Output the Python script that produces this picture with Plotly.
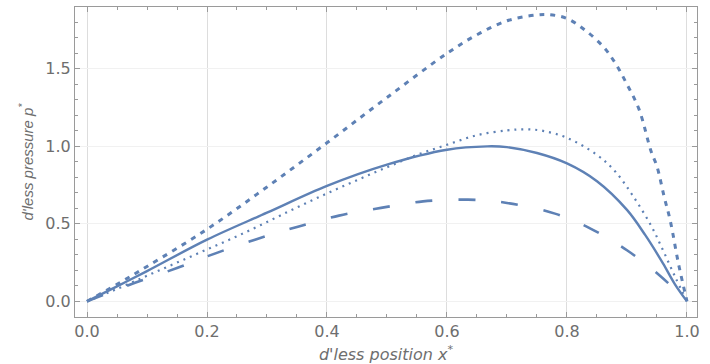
import plotly.graph_objects as go

# Solid curve
solid_x = [0, 0.05, 0.1, 0.2, 0.3, 0.4, 0.5, 0.6, 0.667, 0.7, 0.75, 0.8, 0.85, 0.9, 0.93, 0.96, 0.98, 1.0]
solid_y = [0, 0.097, 0.195, 0.398, 0.572, 0.745, 0.882, 0.978, 1.0, 0.995, 0.957, 0.89, 0.775, 0.59, 0.43, 0.245, 0.11, 0.0]

# Fine dotted curve
dot_x = [0, 0.05, 0.1, 0.15, 0.2, 0.25, 0.3, 0.35, 0.4, 0.45, 0.5, 0.55, 0.6, 0.65, 0.7, 0.73, 0.76, 0.8, 0.85, 0.88, 0.91, 0.94, 0.96, 0.98, 1.0]
dot_y = [0, 0.08, 0.165, 0.25, 0.335, 0.42, 0.512, 0.606, 0.696, 0.782, 0.865, 0.945, 1.01, 1.072, 1.103, 1.11, 1.10, 1.055, 0.945, 0.84, 0.68, 0.49, 0.33, 0.16, 0.0]

# Coarse dotted (short dashes) curve
coarse_x = [0, 0.05, 0.1, 0.2, 0.3, 0.4, 0.5, 0.6, 0.65, 0.7, 0.75, 0.77, 0.8, 0.83, 0.86, 0.88, 0.9, 0.92, 0.94, 0.95, 0.962, 0.972, 0.986, 1.0]
coarse_y = [0, 0.11, 0.225, 0.465, 0.738, 1.023, 1.315, 1.60, 1.72, 1.81, 1.848, 1.85, 1.825, 1.75, 1.645, 1.54, 1.40, 1.24, 0.97, 0.87, 0.674, 0.523, 0.24, 0.0]

# Long dashed curve
dash_x = [0, 0.05, 0.08, 0.15, 0.2, 0.28, 0.35, 0.42, 0.49, 0.56, 0.635, 0.7, 0.78, 0.84, 0.9, 0.955, 1.0]
dash_y = [0, 0.075, 0.12, 0.215, 0.29, 0.398, 0.48, 0.553, 0.603, 0.645, 0.656, 0.635, 0.566, 0.468, 0.33, 0.165, 0.0]

x_ticks = [0.0, 0.2, 0.4, 0.6, 0.8, 1.0]
x_ticktext = ["0.0", "0.2", "0.4", "0.6", "0.8", "1.0"]
y_ticks = [0.0, 0.5, 1.0, 1.5]
y_ticktext = ["0.0", "0.5", "1.0", "1.5"]

COLOR = "#5E81B5"
SMOOTH = 1.0

fig = go.Figure()
fig.add_trace(go.Scatter(x=coarse_x, y=coarse_y, mode="lines",
                         line=dict(color=COLOR, width=3, dash="5px,6px", shape="spline", smoothing=SMOOTH)))
fig.add_trace(go.Scatter(x=dot_x, y=dot_y, mode="lines",
                         line=dict(color=COLOR, width=2.2, dash="2px,5px", shape="spline", smoothing=SMOOTH)))
fig.add_trace(go.Scatter(x=dash_x, y=dash_y, mode="lines",
                         line=dict(color=COLOR, width=2.6, dash="17px,26px", shape="spline", smoothing=SMOOTH)))
fig.add_trace(go.Scatter(x=solid_x, y=solid_y, mode="lines",
                         line=dict(color=COLOR, width=2.4, shape="spline", smoothing=SMOOTH)))

axis_common = dict(
    showline=True, linecolor="#9a9a9a", linewidth=1, mirror="ticks",
    ticks="inside", tickcolor="#9a9a9a", ticklen=5, tickwidth=1,
    zeroline=False, automargin=False,
    tickfont=dict(family="DejaVu Sans", size=16, color="#6e6e6e"),
)

fig.update_layout(
    width=710, height=364,
    margin=dict(l=75, r=13, t=7, b=47),
    paper_bgcolor="white", plot_bgcolor="white",
    showlegend=False,
    xaxis=dict(
        range=[-0.02, 1.0167],
        tickmode="array", tickvals=x_ticks, ticktext=x_ticktext,
        showgrid=True, gridcolor="#dddddd", gridwidth=1,
        minor=dict(dtick=0.05, ticklen=3, ticks="inside", tickcolor="#9a9a9a", showgrid=False),
        title=dict(text="<i>d'less position x<sup>*</sup></i>", standoff=10,
                   font=dict(family="DejaVu Sans", size=16, color="#6e6e6e")),
        **axis_common,
    ),
    yaxis=dict(
        range=[-0.101, 1.899],
        tickmode="array", tickvals=y_ticks, ticktext=y_ticktext,
        showgrid=True, gridcolor="#f1f1f1", gridwidth=1,
        minor=dict(dtick=0.1, ticklen=3, ticks="inside", tickcolor="#9a9a9a", showgrid=False),
        title=dict(text="<i>d'less pressure p<sup>*</sup></i>", standoff=8,
                   font=dict(family="Liberation Sans", size=15, color="#6e6e6e")),
        **axis_common,
    ),
)

fig.write_html("out.html", config={"displayModeBar": False},
               post_script="document.body.style.margin='0';document.body.style.overflow='hidden';")
